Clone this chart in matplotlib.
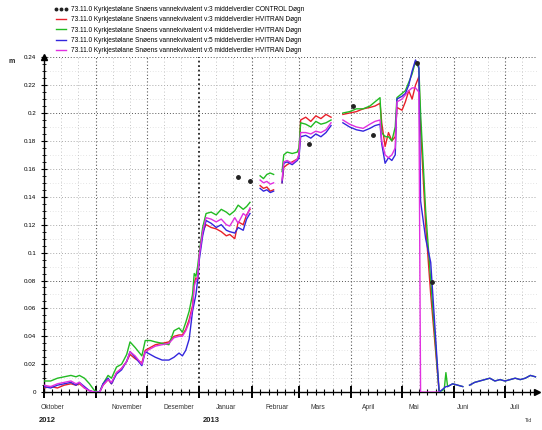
import numpy as np
import pandas as pd
import matplotlib
matplotlib.use("Agg")
import matplotlib.pyplot as plt
import matplotlib.dates as mdates
from matplotlib.lines import Line2D

plt.rcParams['font.family'] = ['Liberation Sans', 'DejaVu Sans']
nan = np.nan

# ---------------- data ----------------
dates = [
    "2012-10-01", "2012-10-05", "2012-10-09", "2012-10-13", "2012-10-17", "2012-10-20", "2012-10-22",
    "2012-10-25", "2012-10-28", "2012-10-31",
    "2012-11-03", "2012-11-05", "2012-11-08", "2012-11-10", "2012-11-13", "2012-11-16", "2012-11-19",
    "2012-11-21", "2012-11-24", "2012-11-28", "2012-11-30",
    "2012-12-03", "2012-12-06", "2012-12-10", "2012-12-14", "2012-12-17", "2012-12-20", "2012-12-22",
    "2012-12-24", "2012-12-26", "2012-12-28", "2012-12-29", "2012-12-30", "2012-12-31",
    "2013-01-01", "2013-01-03", "2013-01-05", "2013-01-08", "2013-01-11", "2013-01-14", "2013-01-17",
    "2013-01-19", "2013-01-22", "2013-01-24", "2013-01-27", "2013-01-29", "2013-01-31",
    "2013-02-03", "2013-02-06", "2013-02-08", "2013-02-10", "2013-02-12", "2013-02-14", "2013-02-16",
    "2013-02-19", "2013-02-20", "2013-02-22", "2013-02-25", "2013-02-28", "2013-03-01",
    "2013-03-02", "2013-03-05", "2013-03-08", "2013-03-11", "2013-03-14", "2013-03-17", "2013-03-20",
    "2013-03-23",
    "2013-03-27", "2013-03-31", "2013-04-04", "2013-04-08", "2013-04-12", "2013-04-15", "2013-04-18",
    "2013-04-19", "2013-04-21", "2013-04-23", "2013-04-25", "2013-04-27", "2013-04-28",
    "2013-05-01", "2013-05-03", "2013-05-05", "2013-05-07", "2013-05-09", "2013-05-11", "2013-05-12",
    "2013-05-15", "2013-05-18", "2013-05-23",
    "2013-05-26", "2013-05-27", "2013-05-28", "2013-05-31", "2013-06-03", "2013-06-06", "2013-06-08",
    "2013-06-10", "2013-06-13", "2013-06-16", "2013-06-19", "2013-06-22", "2013-06-25", "2013-06-28",
    "2013-07-01", "2013-07-04", "2013-07-07", "2013-07-10", "2013-07-13", "2013-07-16", "2013-07-19",
]

swe_v3 = [
    0.003, 0.004, 0.003, 0.005, 0.006, 0.005, 0.006, 0.003, 0.001, 0.0,
    0.0, 0.005, 0.009, 0.006, 0.014, 0.017, 0.022, 0.027, 0.024, 0.021, 0.030,
    0.032, 0.034, 0.035, 0.036, 0.040, 0.041, 0.041, 0.045, 0.052, 0.062, 0.078, 0.082, 0.080,
    0.098, 0.115, 0.120, 0.118, 0.117, 0.115, 0.112, 0.113, 0.110, 0.122, 0.120, 0.127, 0.131,
    nan, 0.148, 0.146, 0.147, 0.144, 0.145, nan, 0.150, 0.161, 0.163, 0.165, 0.167, 0.170,
    0.195, 0.197, 0.194, 0.198, 0.196, 0.199, 0.197, nan,
    0.199, 0.200, 0.201, 0.203, 0.204, 0.205, 0.207,
    0.193, 0.176, 0.186, 0.180, 0.183, 0.204,
    0.202, 0.208, 0.216, 0.210, 0.220, 0.226, 0.190, 0.120, 0.070, 0.0,
    nan, nan, nan, nan, nan, nan, nan, nan, nan, nan, nan, nan, nan, nan, nan, nan, nan, nan, nan, nan, nan,
]

swe_v4 = [
    0.008, 0.008, 0.010, 0.011, 0.012, 0.011, 0.012, 0.010, 0.006, 0.001,
    0.0, 0.006, 0.012, 0.010, 0.018, 0.020, 0.027, 0.036, 0.032, 0.026, 0.037,
    0.037, 0.036, 0.035, 0.034, 0.044, 0.046, 0.043, 0.050, 0.058, 0.070, 0.085, 0.083, 0.090,
    0.100, 0.118, 0.128, 0.129, 0.127, 0.131, 0.129, 0.127, 0.130, 0.134, 0.131, 0.133, 0.136,
    nan, 0.155, 0.153, 0.156, 0.157, 0.156, nan, 0.158, 0.170, 0.172, 0.171, 0.172, 0.175,
    0.193, 0.192, 0.190, 0.194, 0.192, 0.193, 0.195, nan,
    0.200, 0.201, 0.203, 0.203, 0.205, 0.208, 0.211,
    0.186, 0.183, 0.183, 0.180, 0.190, 0.211,
    0.214, 0.216, 0.222, 0.228, 0.237, 0.232, 0.200, 0.130, 0.080, 0.0,
    0.002, 0.014, 0.004, 0.006, 0.005, 0.004, nan, 0.005, 0.007, 0.008, 0.009, 0.010, 0.008, 0.009,
    0.008, 0.009, 0.010, 0.009, 0.010, 0.012, 0.011,
]

swe_v5 = [
    0.004, 0.003, 0.005, 0.006, 0.007, 0.005, 0.007, 0.004, 0.001, 0.0,
    0.0, 0.006, 0.010, 0.006, 0.013, 0.016, 0.022, 0.029, 0.025, 0.019, 0.029,
    0.027, 0.025, 0.023, 0.023, 0.025, 0.028, 0.026, 0.030, 0.038, 0.058, 0.064, 0.070, 0.080,
    0.095, 0.112, 0.123, 0.121, 0.118, 0.120, 0.116, 0.115, 0.114, 0.118, 0.116, 0.124, 0.128,
    nan, 0.146, 0.144, 0.145, 0.143, 0.144, nan, 0.150, 0.164, 0.165, 0.163, 0.166, 0.168,
    0.183, 0.184, 0.182, 0.185, 0.183, 0.186, 0.191, nan,
    0.193, 0.190, 0.188, 0.187, 0.189, 0.191, 0.192,
    0.178, 0.164, 0.168, 0.166, 0.170, 0.210,
    0.212, 0.214, 0.220, 0.230, 0.238, 0.233, 0.137, 0.110, 0.093, 0.0,
    0.003, 0.004, 0.004, 0.006, 0.005, 0.004, nan, 0.005, 0.007, 0.008, 0.009, 0.010, 0.008, 0.009,
    0.008, 0.009, 0.010, 0.009, 0.010, 0.012, 0.011,
]

swe_v6 = [
    0.005, 0.004, 0.006, 0.007, 0.008, 0.006, 0.007, 0.003, 0.001, 0.0,
    0.0, 0.005, 0.009, 0.007, 0.014, 0.017, 0.022, 0.029, 0.026, 0.020, 0.029,
    0.031, 0.033, 0.034, 0.035, 0.039, 0.040, 0.040, 0.044, 0.050, 0.060, 0.076, 0.080, 0.082,
    0.098, 0.115, 0.125, 0.124, 0.122, 0.124, 0.120, 0.119, 0.125, 0.121, 0.128, 0.126, 0.132,
    nan, 0.152, 0.150, 0.151, 0.149, 0.150, nan, 0.152, 0.165, 0.166, 0.164, 0.167, 0.170,
    0.186, 0.186, 0.185, 0.187, 0.186, 0.188, 0.193, nan,
    0.195, 0.192, 0.190, 0.189, 0.192, 0.194, 0.195,
    0.180, 0.170, 0.168, 0.170, 0.175, 0.208,
    0.210, 0.213, 0.216, 0.218, 0.218, 0.215, 0.0, 0.0, 0.0, 0.0,
    nan, nan, nan, nan, nan, nan, nan, nan, nan, nan, nan, nan, nan, nan, nan, nan, nan, nan, nan, nan, nan,
]

control_dates = ["2013-01-24", "2013-01-31", "2013-03-07", "2013-04-02", "2013-04-14", "2013-05-10", "2013-05-19"]
control_vals = [0.154, 0.151, 0.178, 0.205, 0.184, 0.236, 0.079]

month_names = ["Oktober", "November", "Desember", "Januar", "Februar", "Mars", "April", "Mai", "Juni", "Juli"]
year_labels = ["2012", "2013"]
y_ticks = [0, 0.02, 0.04, 0.06, 0.08, 0.1, 0.12, 0.14, 0.16, 0.18, 0.2, 0.22, 0.24]
y_ticklabels = ["0", "0.02", "0.04", "0.06", "0.08", "0.1", "0.12", "0.14", "0.16", "0.18", "0.2", "0.22", "0.24"]

prefix = "73.11.0 Kyrkjestølane Snøens vannekvivalent "
legend_labels = [
    prefix + "v:3 middelverdier CONTROL Døgn",
    prefix + "v:3 middelverdier HVITRAN Døgn",
    prefix + "v:4 middelverdier HVITRAN Døgn",
    prefix + "v:5 middelverdier HVITRAN Døgn",
    prefix + "v:6 middelverdier HVITRAN Døgn",
]

# ---------------- plot ----------------
fig = plt.figure(figsize=(5.42, 4.30), dpi=100)
ax = fig.add_axes([0.081, 0.088, 0.910, 0.779])

x = pd.to_datetime(dates)
xc = pd.to_datetime(control_dates)
x0 = pd.Timestamp("2012-10-01")
x1 = pd.Timestamp("2013-07-20")
ax.set_xlim(x0, x1)
ax.set_ylim(0, 0.24)

# grid
month_starts = pd.date_range("2012-11-01", "2013-07-01", freq="MS")
for m in month_starts:
    if m == pd.Timestamp("2013-01-01"):
        ax.axvline(m, color="#222222", lw=1.3, ls=(0, (1, 1.5)), zorder=1)
    else:
        ax.axvline(m, color="#555555", lw=0.8, ls=(0, (1, 2)), zorder=1)
for m in pd.date_range("2012-10-01", "2013-07-01", freq="MS"):
    for d in (11, 21):
        dd = m + pd.Timedelta(days=d - 1)
        if dd < x1:
            ax.axvline(dd, color="#b0b0b0", lw=0.6, ls=(0, (1, 3)), zorder=1)
for yv in y_ticks[1:]:
    dark = yv in (0.08, 0.2, 0.24)
    ax.axhline(yv, color="#555555" if dark else "#aaaaaa", lw=0.7, ls=(0, (1, 2)), zorder=1)
for yv in np.arange(0.01, 0.24, 0.02):
    ax.axhline(yv, color="#cccccc", lw=0.5, ls=(0, (1, 3)), zorder=1)

# series
ax.plot(x, swe_v3, color="#e8202a", lw=1.0, zorder=3)
ax.plot(x, swe_v4, color="#22bb22", lw=1.0, zorder=3)
ax.plot(x, swe_v5, color="#3326dd", lw=1.0, zorder=3)
ax.plot(x, swe_v6, color="#e030e0", lw=1.0, zorder=3)
ax.plot(xc, control_vals, ls="none", marker="o", ms=2.5, color="#222222", zorder=4)

# spines
for s in ("top", "right"):
    ax.spines[s].set_visible(False)
ax.spines["left"].set_linewidth(1.0)
ax.spines["bottom"].set_linewidth(1.0)
ax.plot(0, 1, marker="^", ms=4, color="black", transform=ax.transAxes, clip_on=False)
ax.plot(1, 0, marker=">", ms=4, color="black", transform=ax.transAxes, clip_on=False)

# ticks
ax.set_yticks(y_ticks)
ax.set_yticklabels(y_ticklabels, fontsize=4.5)
ax.yaxis.set_minor_locator(matplotlib.ticker.MultipleLocator(0.005))
ax.tick_params(axis="y", which="major", direction="inout", length=5, width=0.8, pad=3)
ax.tick_params(axis="y", which="minor", direction="inout", length=2.5, width=0.6)

ax.xaxis.set_major_locator(mdates.MonthLocator())
ax.xaxis.set_minor_locator(mdates.DayLocator(bymonthday=[6, 11, 16, 21, 26]))
ax.xaxis.set_major_formatter(matplotlib.ticker.NullFormatter())
ax.tick_params(axis="x", which="major", direction="inout", length=9, width=1.4)
ax.tick_params(axis="x", which="minor", direction="inout", length=4, width=0.8)

# month and year labels
label_offsets = [5, 18, 19, 16, 15, 11, 10, 7, 5, 6]
month_first = pd.date_range("2012-10-01", "2013-07-01", freq="MS")
trans = matplotlib.transforms.blended_transform_factory(ax.transData, ax.transAxes)
for name, m, off in zip(month_names, month_first, label_offsets):
    ax.text(m + pd.Timedelta(days=off), -0.045, name, transform=trans, ha="center", va="center",
            fontsize=4.8, color="#333333")
ax.text(pd.Timestamp("2012-09-28"), -0.085, year_labels[0], transform=trans, ha="left", va="center",
        fontsize=5.5, fontweight="bold", color="#222222")
ax.text(pd.Timestamp("2013-01-03"), -0.085, year_labels[1], transform=trans, ha="left", va="center",
        fontsize=5.5, fontweight="bold", color="#222222")
fig.text(0.975, 0.018, "Tid", fontsize=4, color="#444444", ha="center")
fig.text(0.022, 0.853, "m", fontsize=5, fontweight="bold", color="#222222", ha="center")

# legend
handles = [
    Line2D([], [], ls="none", marker="o", ms=1.8, color="#222222"),
    Line2D([], [], color="#e8202a", lw=1.0),
    Line2D([], [], color="#22bb22", lw=1.0),
    Line2D([], [], color="#3326dd", lw=1.0),
    Line2D([], [], color="#e030e0", lw=1.0),
]
leg = fig.legend(handles, legend_labels, loc="upper left", bbox_to_anchor=(0.09, 0.998),
                 frameon=False, fontsize=4.7, handlelength=2.2, handletextpad=0.4,
                 labelspacing=0.5, borderpad=0.3, markerscale=1.0, numpoints=3)

fig.savefig("out.png", dpi=100)
